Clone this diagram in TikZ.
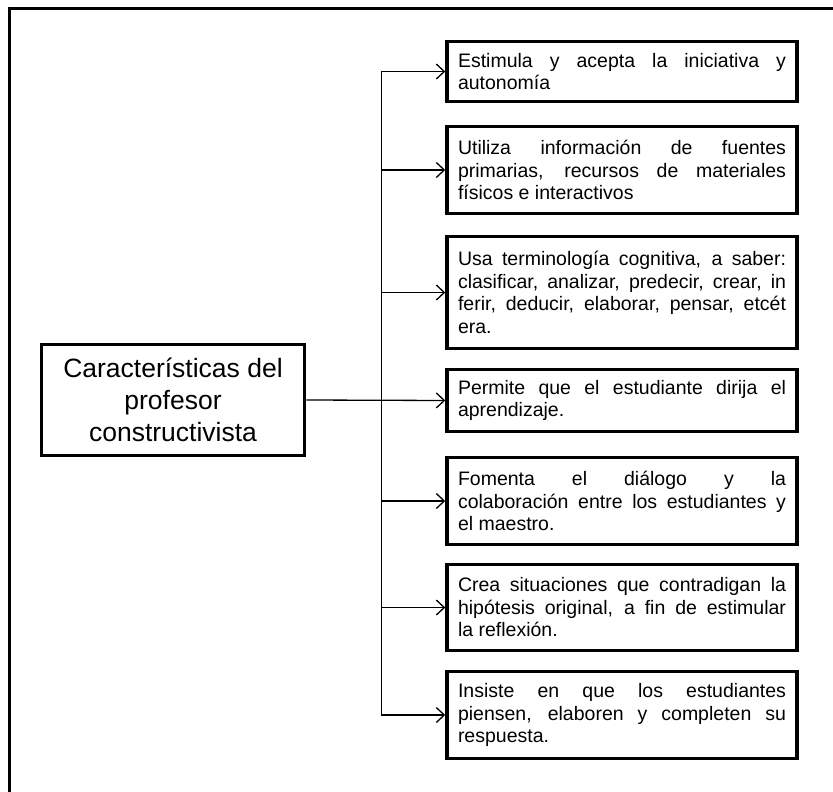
\documentclass[tikz,border=0pt]{standalone}
\usepackage{fontspec}
\setmainfont{Liberation Sans}
\usetikzlibrary{arrows.meta}
\tikzset{
  caja/.style={draw,line width=3.5pt,minimum width=350pt,text width=328pt,
    inner xsep=11pt,inner ysep=3pt,align=justify,
    font=\fontsize{19.5}{22.5}\selectfont},
  flecha/.style={line width=1.3pt,-{Straight Barb[length=8pt,width=15pt,line width=1.3pt]}}
}
\begin{document}
\begin{tikzpicture}[x=1pt,y=-1pt]
  \useasboundingbox (0,0) rectangle (833,792);
  % marco
  \draw[line width=3pt] (9,792) -- (9,9) -- (833,9);
  % nodo principal
  \node[draw,line width=3.5pt,minimum width=263pt,minimum height=111pt,align=center,
    font=\fontsize{26.5}{32}\selectfont] (principal) at (173,400)
    {Características del\\profesor\\constructivista};
  % cajas
  \node[caja,minimum height=60pt] (caja1) at (622,71.5)
    {Estimula y acepta la iniciativa y\linebreak autonomía};
  \node[caja,minimum height=87pt] (caja2) at (622,170)
    {Utiliza información de fuentes\linebreak primarias, recursos de materiales\linebreak físicos e interactivos};
  \node[caja,minimum height=112pt] (caja3) at (622,292.5)
    {Usa terminología cognitiva, a saber:\linebreak clasificar, analizar, predecir, crear, in\linebreak ferir, deducir, elaborar, pensar, etcét\linebreak era.};
  \node[caja,minimum height=62pt] (caja4) at (622,400.5)
    {Permite que el estudiante dirija el\linebreak aprendizaje.};
  \node[caja,minimum height=87pt] (caja5) at (622,501)
    {Fomenta el diálogo y la\linebreak colaboración entre los estudiantes y\linebreak el maestro.};
  \node[caja,minimum height=86pt] (caja6) at (622,607.5)
    {Crea situaciones que contradigan la\linebreak hipótesis original, a fin de estimular\linebreak la reflexión.};
  \node[caja,minimum height=87pt] (caja7) at (622,715)
    {Insiste en que los estudiantes\linebreak piensen, elaboren y completen su\linebreak respuesta.};
  % conectores
  \coordinate (tronco) at (381,400);
  \draw[line width=1pt] (tronco |- caja1.west) -- (tronco |- caja7.west);
  \draw[flecha] (principal.east) -- (caja4.west);
  \foreach \i in {1,2,3,5,6,7}
    \draw[flecha] (tronco |- caja\i.west) -- (caja\i.west);
\end{tikzpicture}
\end{document}
